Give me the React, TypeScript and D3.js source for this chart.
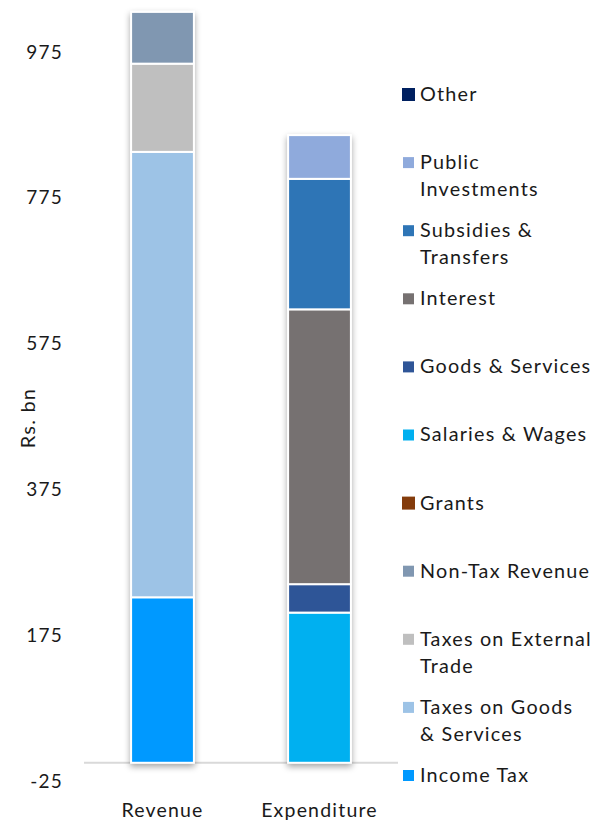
import React, { useEffect, useRef } from "react";
import * as d3 from "d3";

const categories = ["Revenue", "Expenditure"];

// stacking order, bottom to top
const seriesNames = [
  "Income Tax",
  "Taxes on Goods & Services",
  "Taxes on External Trade",
  "Non-Tax Revenue",
  "Grants",
  "Salaries & Wages",
  "Goods & Services",
  "Interest",
  "Subsidies & Transfers",
  "Public Investments",
  "Other",
];

// values in Rs. bn: [Revenue, Expenditure]
const incomeTax = [227, 0];
const taxesGoodsServices = [611, 0];
const taxesExternalTrade = [121, 0];
const nonTaxRevenue = [71, 0];
const grants = [0, 0];
const salariesWages = [0, 206];
const goodsServices = [0, 39];
const interest = [0, 377];
const subsidiesTransfers = [0, 179];
const publicInvestments = [0, 60];
const other = [0, 0];

const seriesValues = [
  incomeTax,
  taxesGoodsServices,
  taxesExternalTrade,
  nonTaxRevenue,
  grants,
  salariesWages,
  goodsServices,
  interest,
  subsidiesTransfers,
  publicInvestments,
  other,
];

const seriesColors = [
  "#0099FF",
  "#9DC3E6",
  "#BFBFBF",
  "#8097B1",
  "#843C0C",
  "#00B0F0",
  "#2F5597",
  "#767171",
  "#2E75B6",
  "#8FAADC",
  "#002060",
];

// legend labels, wrapped like the original
const legendLines = [
  ["Income Tax"],
  ["Taxes on Goods", "& Services"],
  ["Taxes on External", "Trade"],
  ["Non-Tax Revenue"],
  ["Grants"],
  ["Salaries & Wages"],
  ["Goods & Services"],
  ["Interest"],
  ["Subsidies &", "Transfers"],
  ["Public", "Investments"],
  ["Other"],
];

const yTicks = [-25, 175, 375, 575, 775, 975];

const App = () => {
  const ref = useRef<SVGSVGElement>(null);

  useEffect(() => {
    document.body.style.margin = "0";
    const width = 611,
      height = 820;
    const font = "Lato, 'DejaVu Sans', sans-serif";
    const spacing = "1.2px";

    const svg = d3.select(ref.current);
    svg.selectAll("*").remove();
    svg.attr("width", width).attr("height", height).style("display", "block");

    // drop shadow for the bars
    const defs = svg.append("defs");
    const f = defs
      .append("filter")
      .attr("id", "shadow")
      .attr("x", "-30%")
      .attr("y", "-10%")
      .attr("width", "160%")
      .attr("height", "120%");
    f.append("feDropShadow")
      .attr("dx", 0)
      .attr("dy", 3)
      .attr("stdDeviation", 3)
      .attr("flood-color", "#000")
      .attr("flood-opacity", 0.35);

    const x = d3
      .scaleBand()
      .domain(categories)
      .range([84, 398])
      .paddingInner(0.6)
      .paddingOuter(0.3);
    const y = d3.scaleLinear().domain([-25, 975]).range([781, 52]);

    // table for the stack
    const table = categories.map((c, i) => {
      const row: any = { category: c };
      seriesNames.forEach((s, j) => (row[s] = seriesValues[j][i]));
      return row;
    });
    const stacked = d3.stack().keys(seriesNames)(table);

    // baseline
    svg
      .append("line")
      .attr("x1", 84)
      .attr("x2", 398)
      .attr("y1", y(0))
      .attr("y2", y(0))
      .attr("stroke", "#d9d9d9")
      .attr("stroke-width", 2);

    // y ticks
    svg
      .append("g")
      .selectAll("text")
      .data(yTicks)
      .enter()
      .append("text")
      .attr("x", 63)
      .attr("y", (d) => y(d))
      .attr("dy", "0.35em")
      .attr("text-anchor", "end")
      .style("font-family", font)
      .style("font-size", "19px")
      .style("letter-spacing", spacing)
      .attr("fill", "#1a1a1a")
      .text((d) => d);

    svg
      .append("text")
      .attr("transform", `translate(35,418) rotate(-90)`)
      .attr("text-anchor", "middle")
      .style("font-family", font)
      .style("font-size", "20px")
      .style("letter-spacing", spacing)
      .attr("fill", "#1a1a1a")
      .text("Rs. bn");

    // bars
    const bars = svg.append("g").attr("filter", "url(#shadow)");
    stacked.forEach((layer, j) => {
      bars
        .selectAll(null)
        .data(layer.filter((d) => d[1] - d[0] > 0))
        .enter()
        .append("rect")
        .attr("x", (d: any) => x(d.data.category)!)
        .attr("width", x.bandwidth())
        .attr("y", (d) => y(d[1]))
        .attr("height", (d) => y(d[0]) - y(d[1]))
        .attr("fill", seriesColors[j])
        .attr("stroke", "white")
        .attr("stroke-width", 2);
    });

    // category labels
    svg
      .append("g")
      .selectAll("text")
      .data(categories)
      .enter()
      .append("text")
      .attr("x", (d) => x(d)! + x.bandwidth() / 2)
      .attr("y", 817)
      .attr("text-anchor", "middle")
      .style("font-family", font)
      .style("font-size", "19.5px")
      .style("letter-spacing", spacing)
      .attr("fill", "#1a1a1a")
      .text((d) => d);

    // legend, top item is the last series
    const legendOrder = d3.range(seriesNames.length).reverse();
    const hasValue = (d: number) => seriesValues[d].some((v) => v > 0);
    const legend = svg
      .append("g")
      .selectAll("g")
      .data(legendOrder)
      .enter()
      .append("g")
      .attr("transform", (d, i) => `translate(402,${94 + i * 68.1})`);
    legend
      .append("rect")
      .attr("x", (d) => (hasValue(d) ? 1 : 0))
      .attr("y", (d) => (hasValue(d) ? -5 : -6))
      .attr("width", (d) => (hasValue(d) ? 11 : 13))
      .attr("height", (d) => (hasValue(d) ? 11 : 13))
      .attr("fill", (d) => seriesColors[d]);
    legend.each(function (d) {
      const t = d3
        .select(this)
        .append("text")
        .style("font-family", font)
        .style("font-size", "19.8px")
        .style("letter-spacing", spacing)
        .attr("fill", "#1a1a1a");
      legendLines[d].forEach((line, k) => {
        t.append("tspan")
          .attr("x", 18)
          .attr("y", k * 27)
          .attr("dy", "0.35em")
          .text(line);
      });
    });
  }, []);

  return <svg ref={ref}></svg>;
};

export default App;
